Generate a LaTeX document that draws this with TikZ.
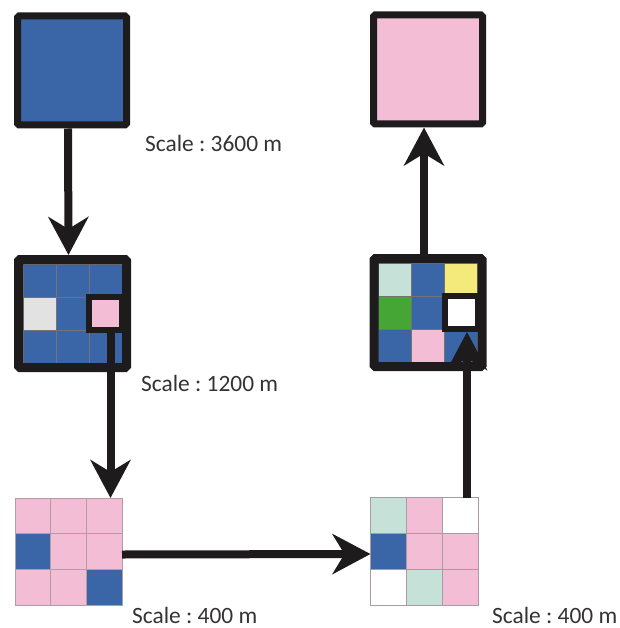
\documentclass[tikz,border=0pt]{standalone}
\usepackage{fontspec}
\setmainfont{Carlito}
\usepackage{tikz}
\usepackage{xcolor}
\usetikzlibrary{arrows.meta}

\definecolor{blu}{HTML}{3A66A8}
\definecolor{pnk}{HTML}{F2BDD5}
\definecolor{mnt}{HTML}{C6E2D8}
\definecolor{ylw}{HTML}{F4EA7B}
\definecolor{grn}{HTML}{45A535}
\definecolor{lgr}{HTML}{E2E2E2}
\definecolor{ink}{HTML}{1E1B1D}

\newcommand{\scalelabelfont}{\fontsize{23.4}{28}\selectfont\frenchspacing}
% 3x3 grid of cells: x0, y0, cell size, line colour, fills
\newcommand{\cellgrid}[5]{%
  \foreach \fillc [count=\k from 0] in {#5} {
    \pgfmathtruncatemacro{\gcol}{mod(\k,3)}
    \pgfmathtruncatemacro{\grow}{\k/3}
    \filldraw[fill=\fillc, draw=#4, line width=1pt]
      ({#1+\gcol*#3},{#2+\grow*#3}) rectangle ++(#3,#3);
  }}

\tikzset{
  bigbox/.style={draw=ink, line width=7pt, rounded corners=1.5pt, minimum size=109pt, inner sep=0pt},
  gridbox/.style={draw=ink, line width=9pt, rounded corners=1.5pt, minimum size=108pt, inner sep=0pt},
  pickbox/.style={draw=ink, line width=6pt, minimum size=33pt, inner sep=0pt},
  plainbox/.style={minimum size=107pt, inner sep=0pt, outer sep=0pt},
  flow/.style={draw=ink, line width=8pt, -{Stealth[length=38pt, width=40pt, inset=12pt]}},
  scalelabel/.style={anchor=base west, font=\scalelabelfont, text=ink!90, inner sep=0pt, text depth=0pt}
}

\begin{document}
\begin{tikzpicture}[x=1pt, y=-1pt]
  \useasboundingbox (0,0) rectangle (619,628);

  % coarse cells
  \node[bigbox, fill=blu] (coarseL) at (72,70.5) {};
  \node[bigbox, fill=pnk] (coarseR) at (428,69.5) {};

  % middle grids
  \cellgrid{23}{264}{33}{black!55}{blu,blu,blu,lgr,blu,pnk,blu,blu,blu}
  \node[gridbox] (midL) at (72.5,313.5) {};
  \node[pickbox, fill=pnk] (pickL) at (105.5,313.5) {};

  \cellgrid{378.5}{263}{33}{black!55}{mnt,blu,ylw,grn,blu,white,blu,pnk,blu}
  \node[gridbox] (midR) at (428,312.5) {};
  \node[pickbox, fill=white] (pickR) at (461,312.5) {};

  % fine grids
  \cellgrid{15}{498}{35.7}{pnk!60!black!70}{pnk,pnk,pnk,blu,pnk,pnk,pnk,pnk,blu}
  \node[plainbox] (fineL) at (68.5,551.5) {};
  \cellgrid{370}{497}{36}{pnk!40!black!55}{mnt,pnk,white,blu,pnk,pnk,white,mnt,pnk}
  \node[plainbox] (fineR) at (424,551) {};

  % arrows
  \draw[flow] ([xshift=-4pt]coarseL.south) -- ([xshift=-4pt]midL.north);
  \draw[flow] ([xshift=5pt]pickL.south) -- ([xshift=5pt]pickL.south |- fineL.north);
  \draw[flow] ([yshift=-3pt]fineL.east) -- ([yshift=-3pt]fineR.west);
  \draw[flow] ([xshift=6pt]pickR.south |- fineR.north) -- ([xshift=6pt]pickR.south);
  \draw[flow] ([xshift=-4pt]midR.north) -- ([xshift=-4pt]coarseR.south);

  % labels
  \node[scalelabel] (lab3600) at (145,152) {Scale : 3600 m};
  \node[scalelabel] (lab1200) at (141,391) {Scale : 1200 m};
  \node[scalelabel] (lab400a) at (132,623) {Scale : 400 m};
  \node[scalelabel] (lab400b) at (492,623) {Scale : 400 m};
\end{tikzpicture}
\end{document}
